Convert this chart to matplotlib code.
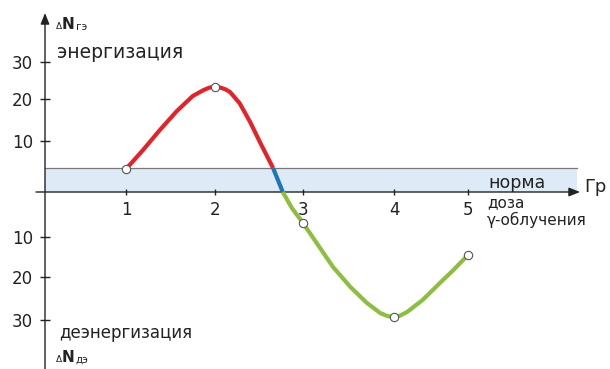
import matplotlib
matplotlib.use("Agg")
import matplotlib.pyplot as plt
import numpy as np
from matplotlib.ticker import FuncFormatter

# The printed axes are schematic: tick spacing is uneven, so each axis uses a
# piecewise-linear scale fitted to the tick positions (pixels from the origin).
dose_knots = [-1, 0, 1, 2, 3, 4, 5, 6, 7]
dose_px = [-81, 0, 81, 170, 258, 349, 423, 503, 583]
dn_knots = [-50, -40, -30, -20, -10, 0, 10, 20, 30, 40, 50]
dn_px = [-214, -171, -128, -85, -45, 0, 51, 93, 130, 167, 204]

dose_ticks = [1, 2, 3, 4, 5]
dn_ticks = [-30, -20, -10, 10, 20, 30]

norm_top = 4.7

# measured points (white markers)
point_dose = [1, 2, 3, 4, 5]
point_dn = [4.5, 23.2, -6.9, -29.3, -14.5]

# curve, split where it enters and leaves the norm band
energ_dose = [1.0, 1.19, 1.38, 1.57, 1.75, 1.87, 1.94, 2.0, 2.06, 2.12, 2.17, 2.28, 2.40, 2.51, 2.66]
energ_dn = [4.5, 8.2, 12.6, 17.1, 20.8, 22.4, 23.1, 23.3, 23.1, 22.6, 21.9, 19.0, 14.5, 9.8, 4.7]
norm_dose = [2.66, 2.77]
norm_dn = [4.7, 0.0]
deenerg_dose = [2.77, 2.875, 3.0, 3.15, 3.33, 3.52, 3.70, 3.85, 3.93, 4.0, 4.08, 4.18, 4.39, 4.62, 4.80, 5.0]
deenerg_dn = [0.0, -3.6, -6.9, -11.5, -17.5, -22.3, -26.0, -28.4, -29.1, -29.3, -29.0, -28.1, -25.3, -21.4, -18.3, -14.5]

RED = "#e3232a"
BLUE = "#1c76b8"
GREEN = "#8cbf3f"
AXIS = "#222222"
W, H = 610, 369
OX, OY = 45, 192  # origin in pixels


def fwd_x(v):
    return np.interp(v, dose_knots, dose_px)


def inv_x(p):
    return np.interp(p, dose_px, dose_knots)


def fwd_y(v):
    return np.interp(v, dn_knots, dn_px)


def inv_y(p):
    return np.interp(p, dn_px, dn_knots)


def ftext(x, y, s, **kw):
    # place text by pixel position in the figure
    kw.setdefault("family", "DejaVu Sans")
    kw.setdefault("color", AXIS)
    return fig.text(x / W, 1 - y / H, s, **kw)


fig = plt.figure(figsize=(W / 100, H / 100), dpi=100)
ax = fig.add_axes([0, 0, 1, 1])
ax.set_xscale("function", functions=(fwd_x, inv_x))
ax.set_yscale("function", functions=(fwd_y, inv_y))
ax.set_xlim(inv_x(-OX), inv_x(W - OX))
ax.set_ylim(inv_y(OY - H), inv_y(OY))

for side in ["top", "right"]:
    ax.spines[side].set_visible(False)
ax.spines["left"].set_position(("data", 0))
ax.spines["bottom"].set_position(("data", 0))
ax.spines["left"].set_color("none")
ax.spines["bottom"].set_color("none")

# norm band
band_end = inv_x(577 - OX)
ax.fill_between([0, band_end], 0, norm_top, color="#deeaf5", lw=0, zorder=1)
ax.plot([0, band_end], [norm_top, norm_top], color="#7a7a7a", lw=0.9, zorder=2)

# axis lines with arrow heads
arrow = dict(arrowstyle="-|>,head_length=0.55,head_width=0.22", color=AXIS,
             lw=1.0, shrinkA=0, shrinkB=0, mutation_scale=12)
ax.annotate("", xy=(inv_x(580 - OX), 0), xytext=(inv_x(-9), 0),
            arrowprops=arrow, zorder=3, annotation_clip=False)
ax.annotate("", xy=(0, inv_y(OY - 13)), xytext=(0, inv_y(OY - H)),
            arrowprops=arrow, zorder=3, annotation_clip=False)

ax.set_xticks(dose_ticks)
ax.set_yticks(dn_ticks)
ax.minorticks_off()
ax.xaxis.set_major_formatter(FuncFormatter(lambda v, p: f"{v:.0f}"))
ax.yaxis.set_major_formatter(FuncFormatter(lambda v, p: f"{abs(v):.0f}"))
ax.tick_params(axis="x", direction="inout", length=5, width=1, pad=4,
               labelsize=12, colors=AXIS)
ax.tick_params(axis="y", direction="inout", length=7, width=1, pad=5,
               labelsize=12, colors=AXIS)
for lab in ax.get_xticklabels() + ax.get_yticklabels():
    lab.set_family("DejaVu Sans")

# curve
style = dict(lw=3, solid_capstyle="butt", solid_joinstyle="round", zorder=4)
ax.plot(energ_dose, energ_dn, color=RED, **style)
ax.plot(norm_dose, norm_dn, color=BLUE, **style)
ax.plot(deenerg_dose, deenerg_dn, color=GREEN, **style)
ax.plot(point_dose, point_dn, "o", ms=6, mfc="white", mec="#555555",
        mew=0.8, zorder=5)

# labels
ftext(57, 53, "энергизация", fontsize=13.5, va="center")
ftext(59, 333, "деэнергизация", fontsize=12, va="center")
ftext(488, 183, "норма", fontsize=12.5, va="center")
ftext(584, 187, "Гр", fontsize=13, va="center")
ftext(487, 203, "доза", fontsize=11, va="center")
ftext(487, 220, "γ-облучения", fontsize=11, va="center")

for base, sub in [(29, "гэ"), (362, "дэ")]:
    ftext(56, base, "Δ", fontsize=6.5, va="baseline")
    ftext(62, base, "N", fontsize=11, va="baseline", fontweight="bold")
    ftext(76, base + 1, sub, fontsize=7.5, va="baseline")

fig.savefig("out.png", dpi=100)
